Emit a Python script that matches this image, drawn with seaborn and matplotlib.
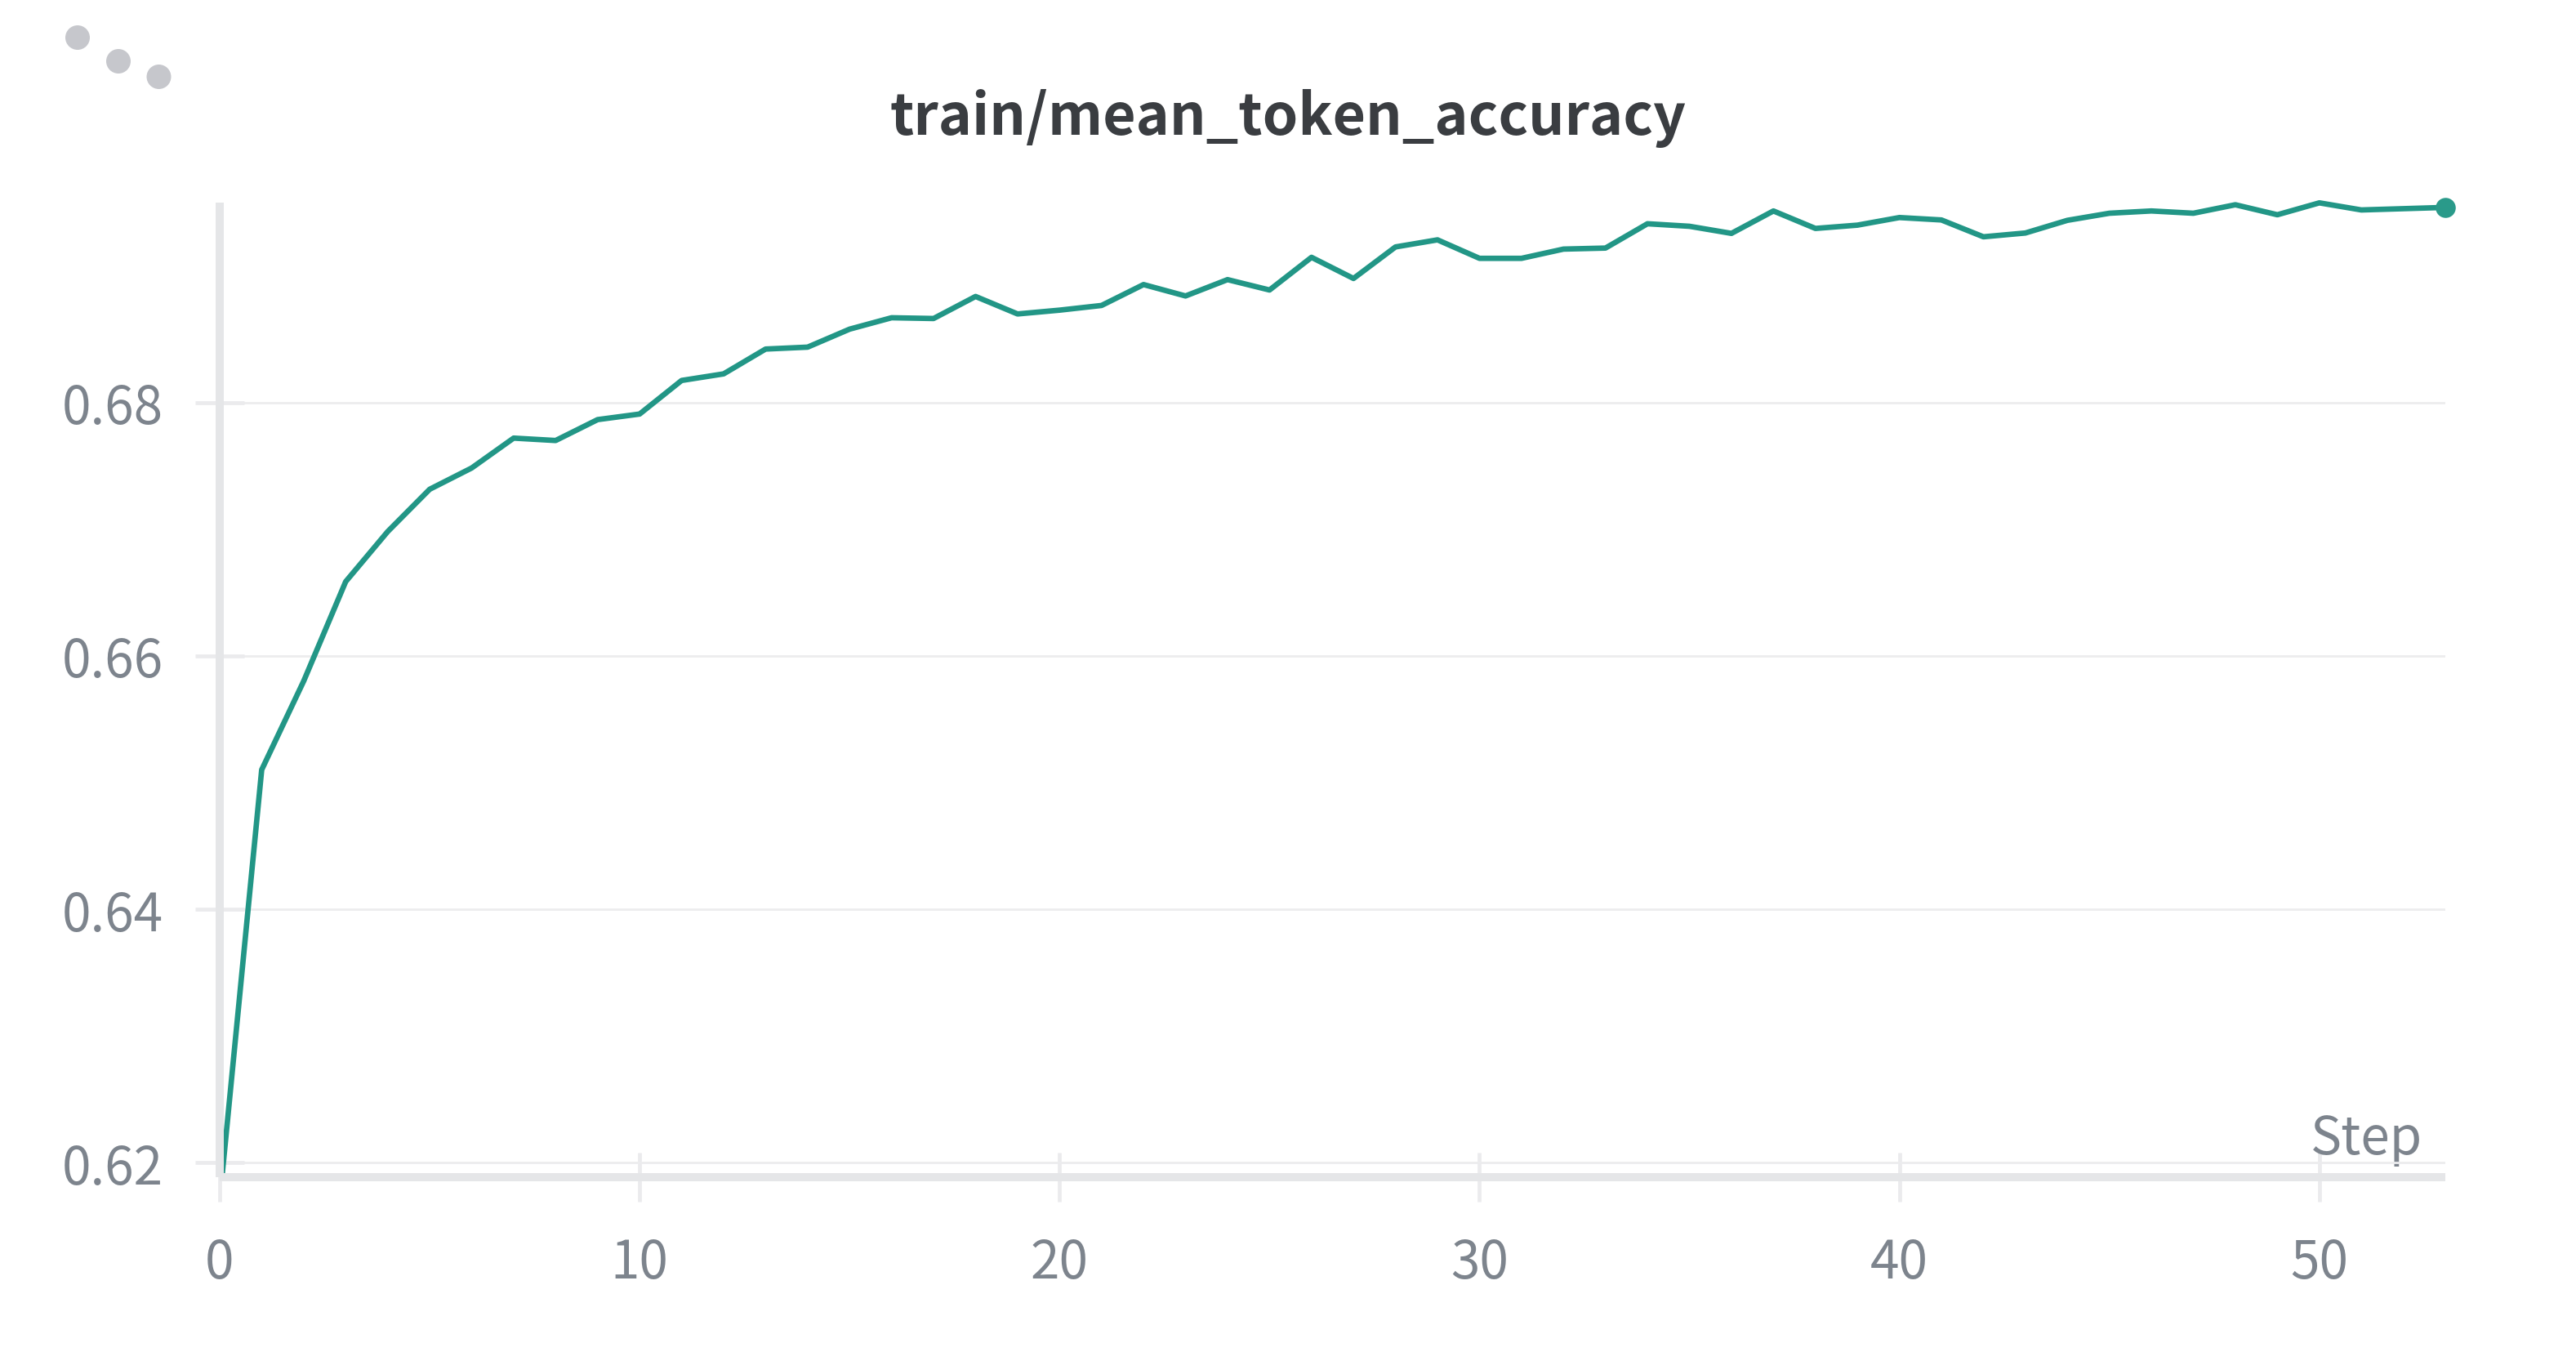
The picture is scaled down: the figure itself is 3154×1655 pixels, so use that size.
import matplotlib
matplotlib.use('Agg')
import matplotlib.pyplot as plt
from matplotlib.patches import Ellipse, Rectangle
import pandas as pd
import seaborn as sns

# Values
steps = list(range(54))
accuracy = [
    0.6170, 0.6510, 0.6580, 0.66585, 0.6698, 0.67314, 0.67482, 0.67718, 0.67699, 0.67864,
    0.67908, 0.68173, 0.68225, 0.68421, 0.68436, 0.68578, 0.68668, 0.68662, 0.68836, 0.68698,
    0.68728, 0.68765, 0.68930, 0.68840, 0.68969, 0.68887, 0.69145, 0.68978, 0.69227, 0.69283,
    0.69137, 0.69137, 0.69210, 0.69218, 0.69410, 0.69390, 0.69334, 0.69511, 0.69373, 0.69399,
    0.69459, 0.69440, 0.69307, 0.69337, 0.69437, 0.69493, 0.69511, 0.69493, 0.69560, 0.69481,
    0.69575, 0.69519, 0.69529, 0.69539,
]
x_ticks = [0, 10, 20, 30, 40, 50]
y_ticks = [0.62, 0.64, 0.66, 0.68]
y_tick_labels = ['0.62', '0.64', '0.66', '0.68']
title = 'train/mean_token_accuracy'
x_label = 'Step'

W, H = 3154, 1656
DPI = 200
TEAL = '#229686'
AXIS = '#e5e6e8'
TICK = '#ebebed'
TEXT = '#7d848d'

sns.set_theme(style='white')
plt.rcParams['font.family'] = ['Noto Sans CJK SC', 'DejaVu Sans']

df = pd.DataFrame({'step': steps, 'accuracy': accuracy})

fig = plt.figure(figsize=(W / DPI, H / DPI), dpi=DPI, facecolor='white')
ax = fig.add_axes([269 / W, 1 - 1442 / H, 2725 / W, 1193 / H])

sns.lineplot(data=df, x='step', y='accuracy', color=TEAL, linewidth=2.4, errorbar=None, ax=ax)
sns.scatterplot(data=df.tail(1), x='step', y='accuracy', color='#2a9a8a', s=78, linewidth=0,
                ax=ax, clip_on=False, zorder=4)

ax.set_xlim(0, 53)
ax.set_ylim(0.61884, 0.69577)
ax.set_xticks(x_ticks)
ax.set_yticks(y_ticks, labels=y_tick_labels)

# First point sits under the axis, so only clip the line at the bottom
ax.lines[0].set_clip_path(Rectangle((0, 0.61884), 54, 0.1, transform=ax.transData))

# Horizontal grid only, spines thick and pale
ax.grid(axis='y', color='#ececee', linewidth=1.0)
ax.grid(axis='x', visible=False)
ax.set_axisbelow(True)
sns.despine(ax=ax)
for side in ['left', 'bottom']:
    ax.spines[side].set_color(AXIS)
    ax.spines[side].set_linewidth(3.6)
    ax.spines[side].set_zorder(3)
    ax.spines[side].set_capstyle('butt')
ax.tick_params(axis='both', direction='inout', length=21.6, width=1.7, color=TICK,
               labelcolor=TEXT, labelsize=23, bottom=True, left=True)
ax.tick_params(axis='x', pad=15)
ax.tick_params(axis='y', pad=14)

ax.set_ylabel('')
ax.set_xlabel(x_label, fontsize=23, color=TEXT, ha='right', va='baseline')
ax.xaxis.set_label_coords(2697 / 2725, 29.3 / 1193)

fig.text(1577 / W, 1 - 165 / H, title, ha='center', va='baseline', fontsize=25.1,
         fontweight='bold', color='#3a3d41')

# The three menu dots at the top left
for cx, cy in [(95, 47), (145, 76), (194.5, 95)]:
    fig.add_artist(Ellipse((cx / W, 1 - cy / H), 30 / W, 30 / H, transform=fig.transFigure,
                           facecolor='#c6c7cc', edgecolor='none'))

fig.savefig('out.png', dpi=DPI)
plt.close(fig)
